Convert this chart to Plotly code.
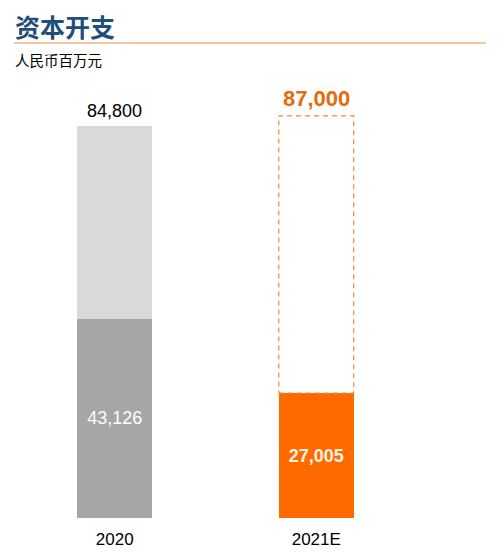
import plotly.graph_objects as go

categories = ["2020", "2021E"]
base_values = [43126, 27005]
total_values = [84800, 87000]

x_pos = list(range(len(categories)))
upper_values = [t - b for t, b in zip(total_values, base_values)]
bar_w = 0.372

W, H = 498, 560
OFF = 8  # page body margin
L, R, T, B = 14 - OFF, 89, 75 - OFF, 50

fig = go.Figure()
fig.add_trace(go.Bar(
    x=x_pos, y=base_values, width=bar_w,
    marker=dict(color=["#a6a6a6", "#ff6a00"], line=dict(width=0)),
    text=[f"{base_values[0]:,}", f"<b>{base_values[1]:,}</b>"], textposition="inside",
    insidetextanchor="middle",
    textfont=dict(family="Liberation Sans, Arial", size=18, color=["#ffffff", "#fff3e0"]),
    hoverinfo="skip",
))
fig.add_trace(go.Bar(
    x=x_pos, y=upper_values, width=bar_w,
    marker=dict(color=["#d9d9d9", "rgba(255,255,255,0)"], line=dict(width=0)),
    hoverinfo="skip",
))

# dashed outline for the forecast remainder
i = 1
fig.add_shape(type="rect", xref="x", yref="y",
              x0=x_pos[i] - bar_w / 2, x1=x_pos[i] + bar_w / 2,
              y0=base_values[i], y1=total_values[i],
              line=dict(color="#f0883a", width=1.2, dash="5px,4px"),
              fillcolor="rgba(0,0,0,0)")

# total labels
fig.add_annotation(x=x_pos[0], y=total_values[0], xref="x", yref="y",
                   text=f"{total_values[0]:,}", showarrow=False, yanchor="bottom", yshift=3,
                   font=dict(family="Liberation Sans, Arial", size=18, color="#000000"))
fig.add_annotation(x=x_pos[1], y=total_values[1], xref="x", yref="y",
                   text=f"<b>{total_values[1]:,}</b>", showarrow=False, yanchor="bottom", yshift=3,
                   font=dict(family="Liberation Sans, Arial", size=22, color="#e46c0a"))

pw = W - L - R
ph = H - T - B


def px(x):
    return (x - OFF - L) / pw


def py(y):
    return (H - (y - OFF) - B) / ph


# title, rule and unit
fig.add_annotation(x=px(14), y=py(26), xref="paper", yref="paper", text="<b>资本开支</b>",
                   showarrow=False, xanchor="left", yanchor="middle", borderpad=0,
                   font=dict(family="Noto Sans CJK SC", size=25, color="#1f4e79"))
fig.add_annotation(x=px(14), y=py(59), xref="paper", yref="paper", text="人民币百万元",
                   showarrow=False, xanchor="left", yanchor="middle", borderpad=0,
                   font=dict(family="Noto Sans CJK SC", size=14.5, color="#000000"))
fig.add_shape(type="line", xref="paper", yref="paper",
              x0=px(14), x1=px(486), y0=py(43), y1=py(43),
              line=dict(color="#f4b183", width=1.5))

fig.update_layout(
    width=W, height=H,
    margin=dict(l=L, r=R, t=T, b=B),
    barmode="stack", showlegend=False,
    plot_bgcolor="white", paper_bgcolor="white",
    xaxis=dict(range=[-0.5, 1.5], tickvals=x_pos, ticktext=categories,
               showgrid=False, zeroline=False, showline=False, ticks="",
               ticklabelstandoff=9,
               tickfont=dict(family="Liberation Sans, Arial", size=17, color="#000000")),
    yaxis=dict(range=[0, 95833], visible=False),
)

fig.write_html("out.html")
